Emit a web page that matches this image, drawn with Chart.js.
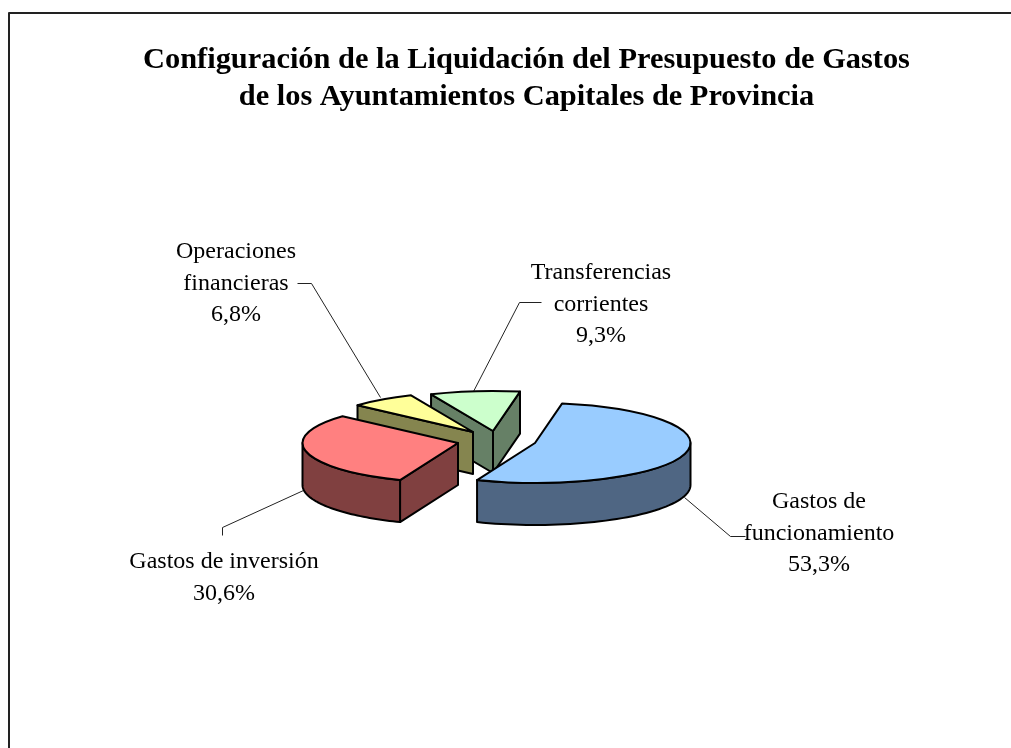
<!DOCTYPE html>
<html><head><meta charset="utf-8">
<script src="https://cdn.jsdelivr.net/npm/chart.js@4"></script>
<style>html,body{margin:0;padding:0;background:#fff;overflow:hidden}canvas{display:block}</style>
</head><body><canvas id="c" width="1011" height="748"></canvas>
<script>
const categories = ['Gastos de funcionamiento','Gastos de inversión','Operaciones financieras','Transferencias corrientes'];
const values = [53.3, 30.6, 6.8, 9.3];
const labelLines = [['Gastos de','funcionamiento'],['Gastos de inversión'],['Operaciones','financieras'],['Transferencias','corrientes']];
const titleLines = ['Configuración de la Liquidación del Presupuesto de Gastos','de los Ayuntamientos Capitales de Provincia'];
const topColors = ['#99CCFF','#FF8080','#FFFF99','#CCFFCC'];
const sideColors = ['#4F6683','#804040','#85854F','#668066'];

// presentation geometry of the exploded, tilted pie
const apex = [[535,443],[458,443],[473,432],[493,431]];
const RX = 155.5, RY = 40, DEPTH = 42;
const paintOrder = [3,2,1,0];
const labelAnchors = [[819,502],[224,562],[236,252],[601,273]];
const leaders = [
  [[745,536],[730,536],[684,497]],
  [[222,535],[222,527],[303,490]],
  [[297,283],[311,283],[380,397]],
  [[541,302],[519,302],[473,391]]
];
const LABEL_FONT = '24px "Liberation Serif"';
const LINE_H = 31.5;

const pie3d = {
  id:'pie3d',
  beforeDatasetsDraw(chart){
    const ctx = chart.ctx, arcs = chart.getDatasetMeta(0).data;
    const P = (i,a,d=0)=>[apex[i][0]+RX*Math.cos(a), apex[i][1]+RY*Math.sin(a)+d];
    ctx.save();
    ctx.lineWidth = 2; ctx.strokeStyle = '#000'; ctx.lineJoin = 'round';
    // leader lines first
    ctx.save(); ctx.lineWidth = 1; ctx.strokeStyle='#222';
    leaders.forEach(l=>{ctx.beginPath();l.forEach((p,k)=>k?ctx.lineTo(p[0]+.5,p[1]+.5):ctx.moveTo(p[0]+.5,p[1]+.5));ctx.stroke();});
    ctx.restore();
    for(const i of paintOrder){
      const arc = arcs[i];
      const {startAngle:s,endAngle:e,x,y,outerRadius:R} = arc.getProps(['startAngle','endAngle','x','y','outerRadius'],true);
      const [ax,ay] = apex[i];
      const face = a=>{
        const q = P(i,a);
        ctx.beginPath();ctx.moveTo(ax,ay);ctx.lineTo(q[0],q[1]);ctx.lineTo(q[0],q[1]+DEPTH);ctx.lineTo(ax,ay+DEPTH);ctx.closePath();
        ctx.fillStyle = sideColors[i];ctx.fill();ctx.stroke();
      };
      if(Math.cos(e)>0) face(e);
      if(Math.cos(s)<0) face(s);
      // outer wall: the part of the rim in front (sin>0)
      const two = Math.PI*2;
      let a0=s, a1=e;
      const k = Math.floor(a0/two); a0-=k*two; a1-=k*two;
      let w0 = null, w1 = null;
      for(const off of [0,two]){
        const lo=Math.max(a0,off), hi=Math.min(a1,off+Math.PI);
        if(hi>lo && w0===null){w0=lo;w1=hi;}
      }
      if(w0!==null){
        ctx.beginPath();
        const n=48;
        for(let t=0;t<=n;t++){const p=P(i,w0+(w1-w0)*t/n);t?ctx.lineTo(p[0],p[1]):ctx.moveTo(p[0],p[1]);}
        for(let t=n;t>=0;t--){const p=P(i,w0+(w1-w0)*t/n,DEPTH);ctx.lineTo(p[0],p[1]);}
        ctx.closePath();ctx.fillStyle=sideColors[i];ctx.fill();ctx.stroke();
      }
      // top, drawn by the library's own arc element through a flattening transform
      ctx.save();
      ctx.translate(ax,ay);ctx.scale(RX/R,RY/R);ctx.translate(-x,-y);
      arc.draw(ctx);
      ctx.beginPath();ctx.moveTo(x,y);ctx.arc(x,y,R,s,e);ctx.closePath();
      ctx.restore();
      ctx.stroke();
    }
    // labels
    ctx.fillStyle='#000';ctx.font=LABEL_FONT;ctx.textAlign='center';ctx.textBaseline='middle';
    labelLines.forEach((lines,i)=>{
      const all = lines.concat(values[i].toFixed(1).replace('.',',')+'%');
      all.forEach((t,k)=>ctx.fillText(t,labelAnchors[i][0],labelAnchors[i][1]+k*LINE_H));
    });
    // frame: runs off the right and bottom edges of the page
    ctx.lineWidth=2;ctx.strokeStyle='#222';ctx.strokeRect(9,13,1100,800);
    ctx.restore();
    return false;
  }
};

new Chart(document.getElementById('c'),{
  type:'pie',
  data:{labels:categories,datasets:[{data:values,backgroundColor:topColors,borderWidth:0}]},
  options:{
    responsive:false,animation:false,rotation:10,
    layout:{padding:{top:0,left:42,right:0,bottom:100}},
    plugins:{
      legend:{display:false},tooltip:{enabled:false},
      title:{display:true,text:titleLines,color:'#000',align:'center',
        font:{family:'"Liberation Serif"',size:30.4,weight:'bold',lineHeight:1.22},padding:{top:42,bottom:0}}
    }
  },
  plugins:[pie3d]
});
</script></body></html>
